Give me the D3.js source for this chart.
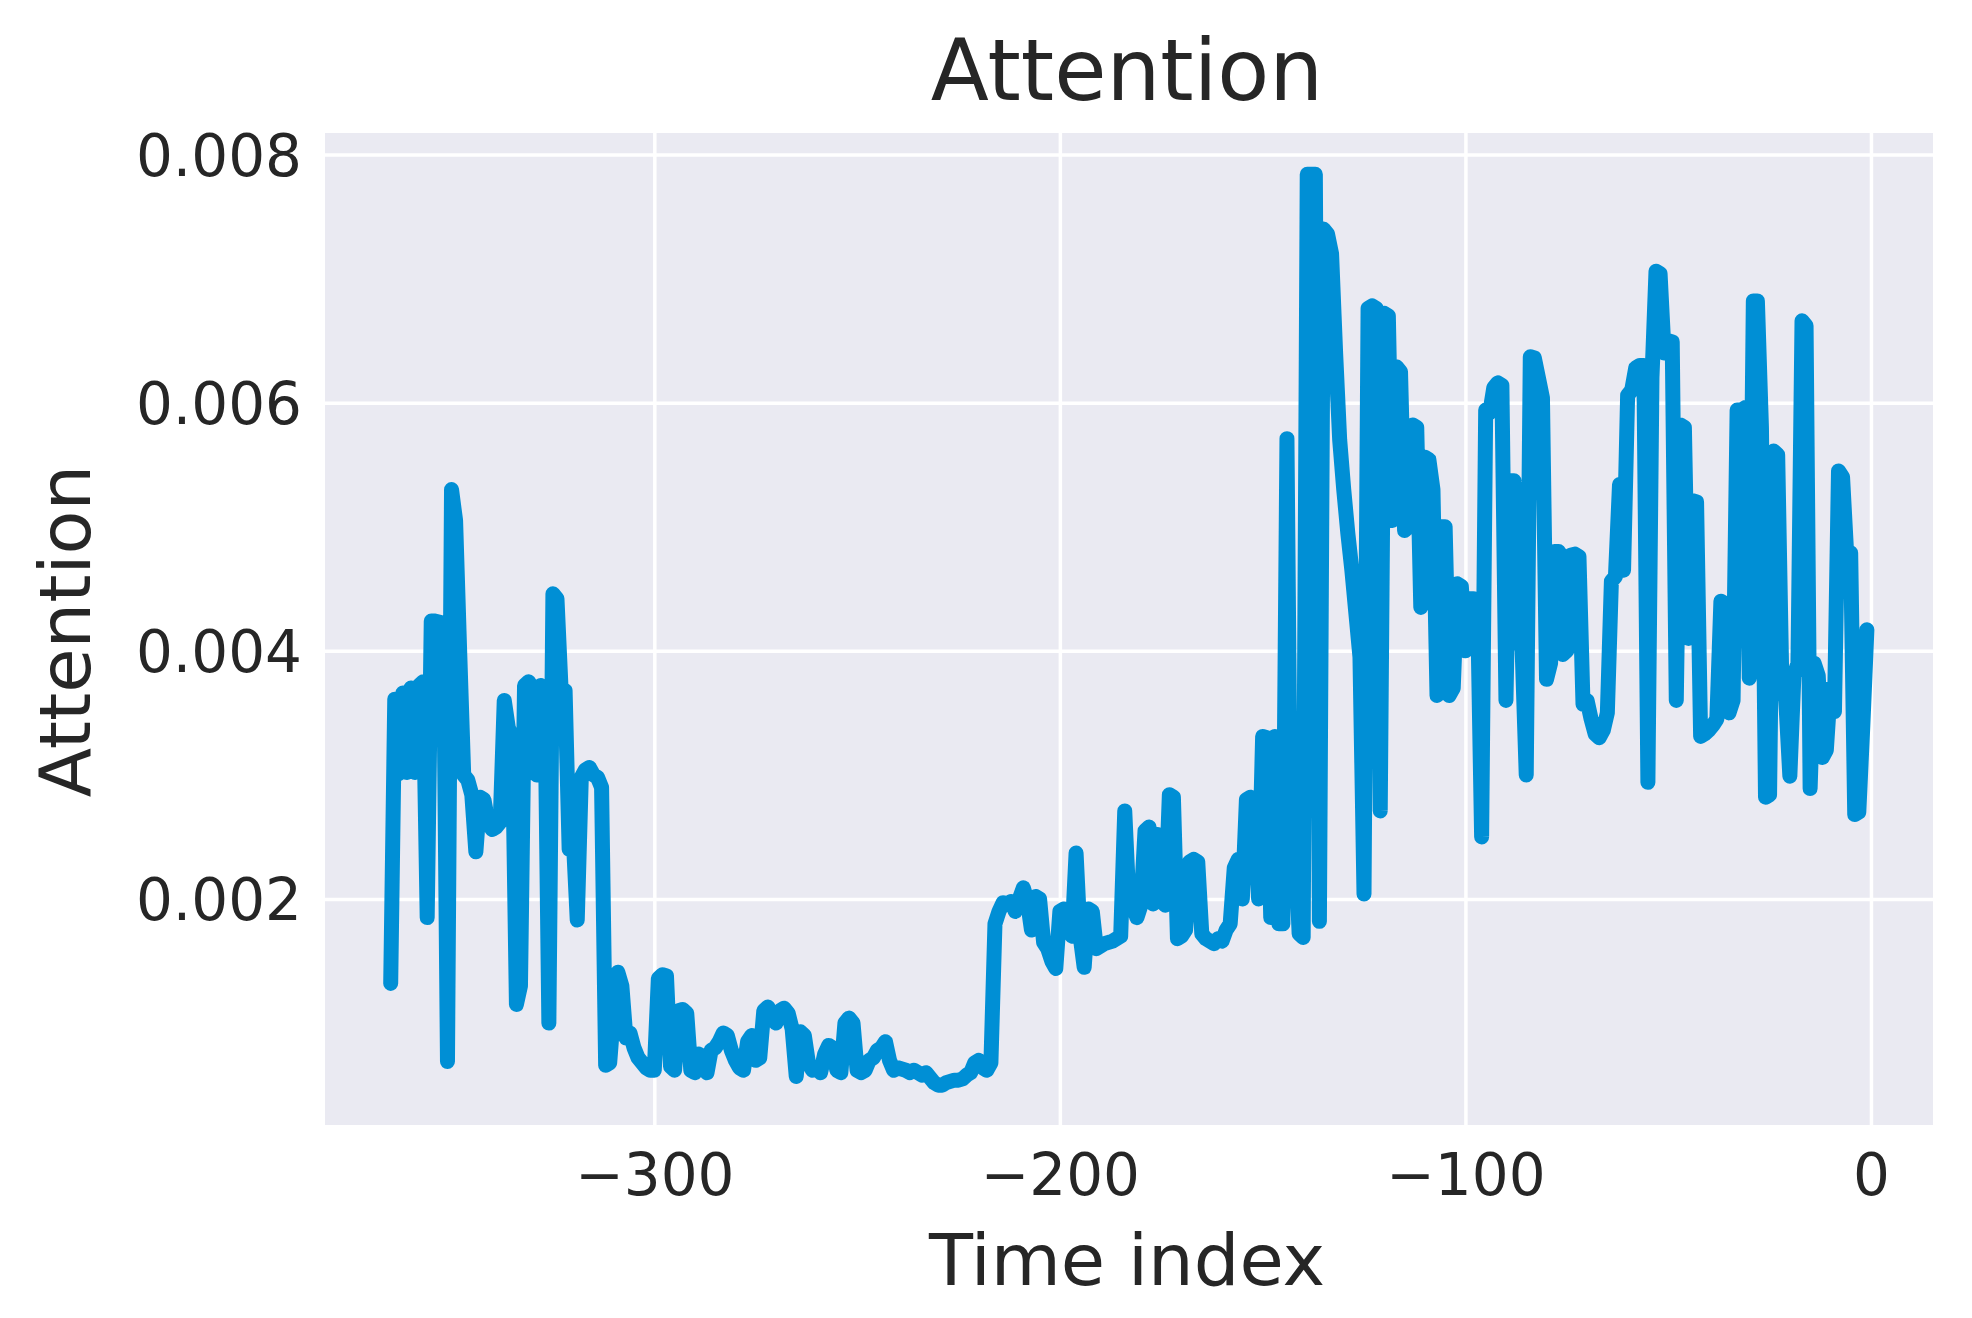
<!DOCTYPE html>
<html><head><meta charset="utf-8">
<script src="https://cdn.jsdelivr.net/npm/d3@7"></script>
<style>
body{margin:0;background:#fff;}
svg{display:block;}
text{font-family:"DejaVu Sans",sans-serif;fill:#262626;}
</style>
</head><body><div id="chart"></div>
<script>
const titleText = "Attention";
const xLabelText = "Time index";
const yLabelText = "Attention";
const xTicks = [-300, -200, -100, 0];
const yTicks = [0.002, 0.004, 0.006, 0.008];
const timeIndex = d3.range(-365, 0);
const attention = [
0.00132,0.00361,0.00301,0.00366,0.00302,0.00370,0.00302,0.00372,0.00375,0.00185,
0.00424,0.00424,0.00423,0.00422,0.00069,0.00530,0.00505,0.00400,0.00300,0.00296,
0.00284,0.00238,0.00282,0.00280,0.00262,0.00256,0.00258,0.00262,0.00360,0.00338,
0.00330,0.00115,0.00130,0.00372,0.00375,0.00370,0.00300,0.00372,0.00370,0.00100,
0.00446,0.00442,0.00370,0.00368,0.00240,0.00250,0.00183,0.00298,0.00304,0.00306,
0.00300,0.00298,0.00290,0.00066,0.00068,0.00110,0.00141,0.00130,0.00088,0.00092,
0.00080,0.00072,0.00068,0.00064,0.00062,0.00062,0.00136,0.00139,0.00138,0.00065,
0.00062,0.00110,0.00111,0.00108,0.00062,0.00060,0.00075,0.00070,0.00060,0.00078,
0.00080,0.00085,0.00092,0.00090,0.00078,0.00070,0.00064,0.00062,0.00085,0.00090,
0.00070,0.00072,0.00110,0.00113,0.00105,0.00100,0.00110,0.00112,0.00108,0.00095,
0.00057,0.00093,0.00090,0.00068,0.00062,0.00064,0.00060,0.00075,0.00082,0.00080,
0.00062,0.00060,0.00100,0.00104,0.00100,0.00062,0.00060,0.00062,0.00070,0.00072,
0.00078,0.00080,0.00085,0.00070,0.00062,0.00064,0.00063,0.00062,0.00060,0.00062,
0.00060,0.00058,0.00060,0.00056,0.00052,0.00050,0.00050,0.00052,0.00053,0.00054,
0.00054,0.00055,0.00058,0.00060,0.00068,0.00070,0.00064,0.00062,0.00068,0.00180,
0.00190,0.00197,0.00196,0.00198,0.00190,0.00200,0.00209,0.00198,0.00175,0.00202,
0.00200,0.00165,0.00160,0.00150,0.00144,0.00190,0.00192,0.00175,0.00170,0.00237,
0.00170,0.00145,0.00192,0.00190,0.00160,0.00162,0.00164,0.00165,0.00166,0.00168,
0.00170,0.00271,0.00200,0.00195,0.00185,0.00195,0.00255,0.00258,0.00196,0.00252,
0.00250,0.00195,0.00284,0.00282,0.00168,0.00170,0.00175,0.00230,0.00232,0.00230,
0.00172,0.00168,0.00166,0.00164,0.00168,0.00166,0.00175,0.00180,0.00225,0.00232,
0.00200,0.00280,0.00282,0.00278,0.00200,0.00331,0.00330,0.00185,0.00331,0.00180,
0.00180,0.00571,0.00200,0.00250,0.00172,0.00169,0.00784,0.00784,0.00784,0.00182,
0.00740,0.00736,0.00720,0.00640,0.00570,0.00530,0.00495,0.00465,0.00430,0.00395,
0.00204,0.00676,0.00678,0.00676,0.00271,0.00672,0.00670,0.00505,0.00629,0.00625,
0.00497,0.00500,0.00582,0.00580,0.00435,0.00556,0.00554,0.00530,0.00364,0.00500,
0.00500,0.00364,0.00370,0.00454,0.00452,0.00400,0.00442,0.00442,0.00436,0.00250,
0.00594,0.00592,0.00612,0.00616,0.00614,0.00360,0.00537,0.00537,0.00420,0.00400,
0.00300,0.00637,0.00636,0.00620,0.00604,0.00377,0.00390,0.00480,0.00480,0.00397,
0.00400,0.00477,0.00478,0.00476,0.00357,0.00360,0.00345,0.00333,0.00330,0.00336,
0.00350,0.00456,0.00460,0.00534,0.00465,0.00606,0.00610,0.00628,0.00630,0.00630,
0.00294,0.00620,0.00706,0.00704,0.00640,0.00650,0.00649,0.00360,0.00582,0.00580,
0.00410,0.00521,0.00520,0.00331,0.00333,0.00336,0.00340,0.00345,0.00440,0.00438,
0.00350,0.00360,0.00594,0.00594,0.00596,0.00378,0.00682,0.00682,0.00580,0.00282,
0.00284,0.00561,0.00558,0.00380,0.00360,0.00299,0.00380,0.00390,0.00666,0.00662,
0.00289,0.00390,0.00380,0.00314,0.00320,0.00370,0.00351,0.00545,0.00540,0.00479,
0.00479,0.00268,0.00270,0.00340,0.00417
];

const W = 1972, H = 1318;
const plot = {left: 325, right: 1933, top: 133, bottom: 1125};
const pw = plot.right - plot.left, ph = plot.bottom - plot.top;

const x = d3.scaleLinear().domain([-381.2, 15.3]).range([0, pw]);
const y = d3.scaleLinear().domain([0.002, 0.008]).range([899 - plot.top, 154.5 - plot.top]);

const svg = d3.select("#chart").append("svg").attr("width", W).attr("height", H);
svg.append("rect").attr("width", W).attr("height", H).attr("fill", "#ffffff");

const g = svg.append("g").attr("transform", `translate(${plot.left},${plot.top})`);
g.append("rect").attr("width", pw).attr("height", ph).attr("fill", "#eaeaf2");

// x axis with grid
const xAxis = g.append("g").attr("transform", `translate(0,${ph})`)
  .call(d3.axisBottom(x).tickValues(xTicks).tickSizeInner(-ph).tickSizeOuter(0).tickFormat(d3.format("d")));
xAxis.select(".domain").remove();
xAxis.selectAll("line").attr("stroke", "#ffffff").attr("stroke-width", 3.5);
xAxis.selectAll("text").attr("y", 70).attr("dy", null)
  .style("font-size", "58px").attr("fill", "#262626");

// y axis with grid
const yAxis = g.append("g")
  .call(d3.axisLeft(y).tickValues(yTicks).tickSizeInner(-pw).tickSizeOuter(0).tickFormat(d3.format(".3f")));
yAxis.select(".domain").remove();
yAxis.selectAll("line").attr("stroke", "#ffffff").attr("stroke-width", 3.5);
yAxis.selectAll("text").attr("x", -23).attr("dy", "0.36em")
  .style("font-size", "58px").attr("fill", "#262626");

// clip
svg.append("clipPath").attr("id", "clip").append("rect").attr("width", pw).attr("height", ph);

const data = timeIndex.map((t, i) => ({t, v: attention[i]}));
const line = d3.line().x(d => x(d.t)).y(d => y(d.v));
g.append("path").datum(data)
  .attr("clip-path", "url(#clip)")
  .attr("d", line)
  .attr("fill", "none")
  .attr("stroke", "#008fd5")
  .attr("stroke-width", 15)
  .attr("stroke-linejoin", "round")
  .attr("stroke-linecap", "round");

// title and labels
svg.append("text").attr("x", 1127).attr("y", 100).attr("text-anchor", "middle")
  .style("font-size", "85px").text(titleText);
svg.append("text").attr("x", 1127).attr("y", 1285).attr("text-anchor", "middle")
  .style("font-size", "72px").text(xLabelText);
svg.append("text").attr("transform", "translate(90,631) rotate(-90)").attr("text-anchor", "middle")
  .style("font-size", "72px").text(yLabelText);
</script>
</body></html>
